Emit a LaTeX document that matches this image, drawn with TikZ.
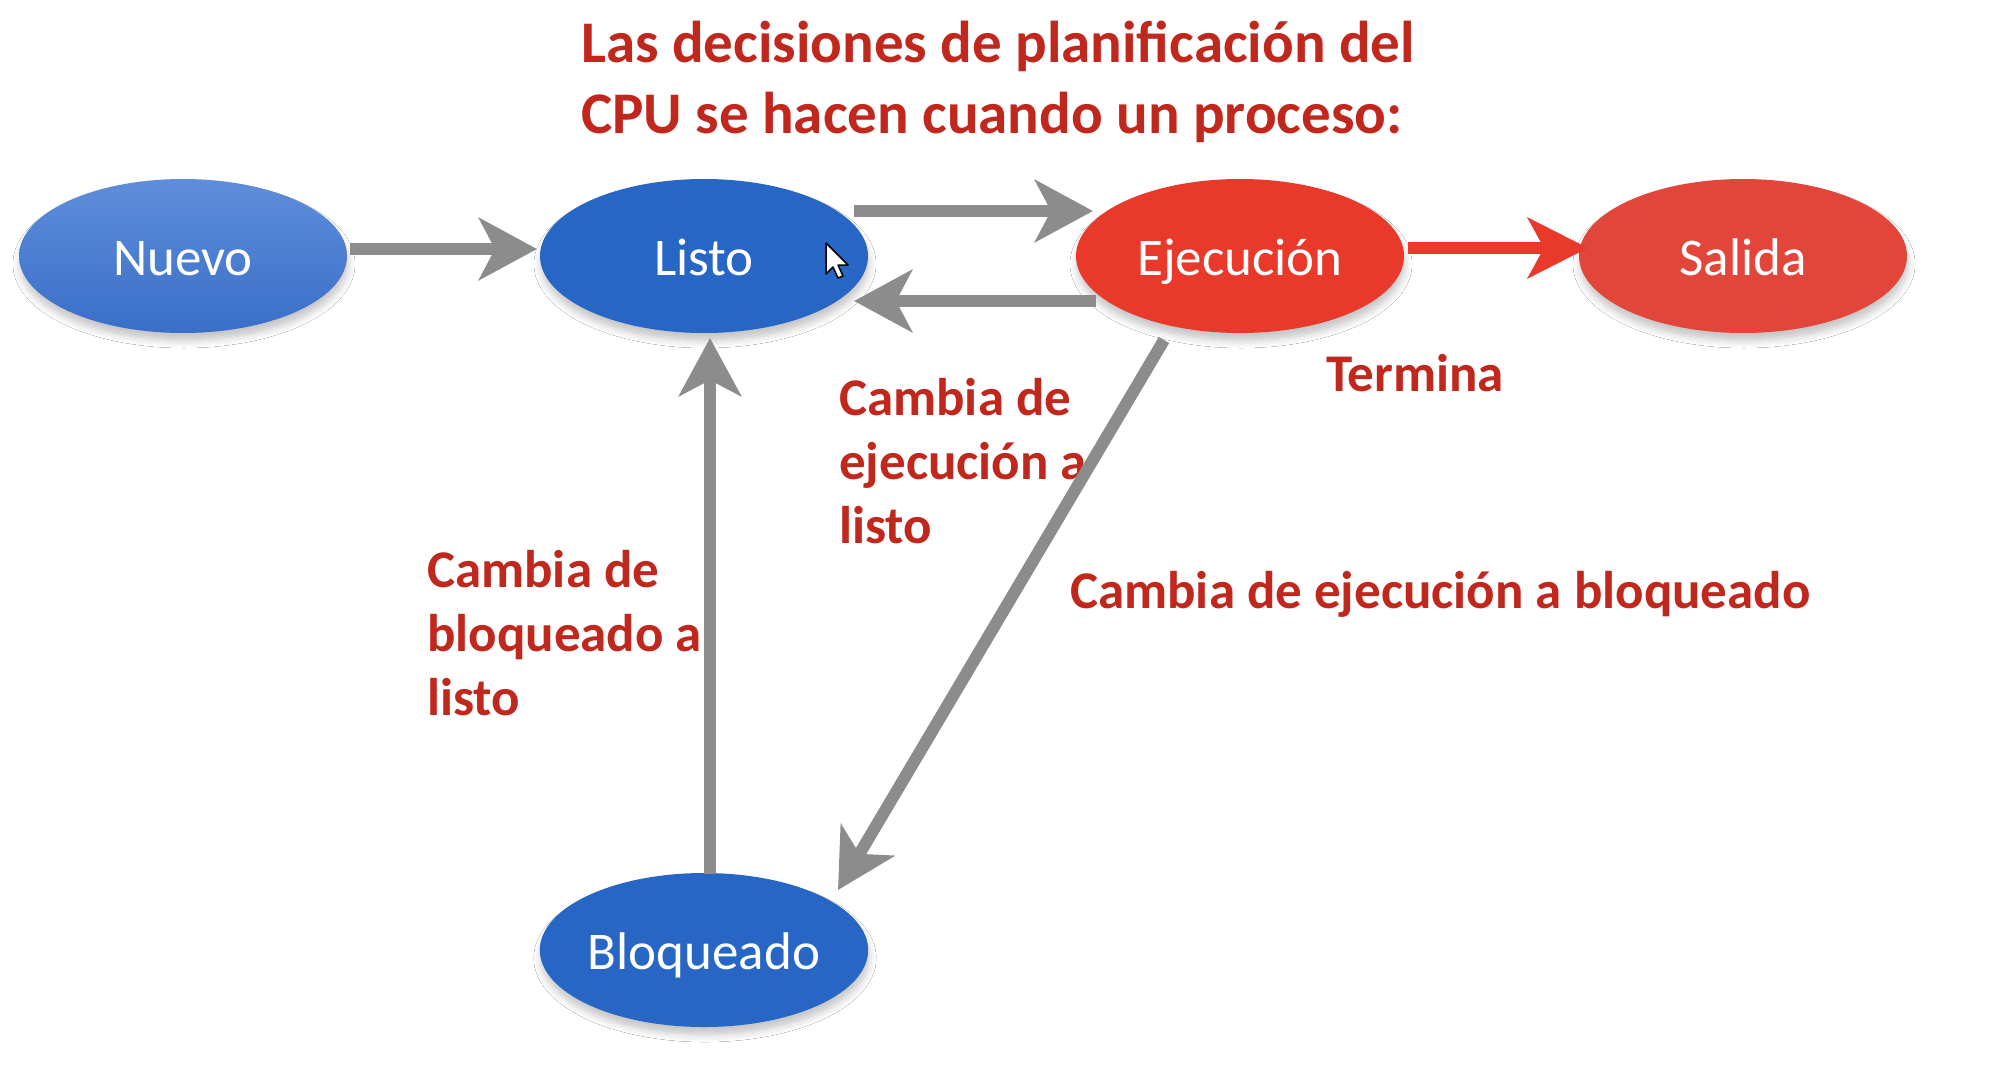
\documentclass[tikz,border=0pt]{standalone}
\usepackage{fontspec}
\setmainfont{Carlito}
\usetikzlibrary{arrows.meta,calc,shapes.geometric,shadows.blur}
\definecolor{lblred}{HTML}{C0281E}
\definecolor{nblue}{HTML}{2766C5}
\definecolor{nbluetop}{HTML}{5E8DDA}
\definecolor{nbluebot}{HTML}{3A6FC8}
\definecolor{nred}{HTML}{E8392A}
\definecolor{nredb}{HTML}{E24539}
\definecolor{agray}{HTML}{8C8C8C}
\begin{document}
\begin{tikzpicture}[x=1pt,y=-1pt,
  state/.style={ellipse, minimum width=328pt, minimum height=154pt, inner sep=0pt,
    text=white, font=\fontsize{53}{64}\selectfont, text height=39pt, text depth=0pt,
    blur shadow={shadow xshift=1pt, shadow yshift=-8pt, shadow blur radius=7pt, shadow opacity=22}},
  lbl/.style={text=lblred, font=\bfseries\fontsize{53}{64}\selectfont, align=left, inner sep=0pt},
  ttl/.style={text=lblred, font=\bfseries\fontsize{59}{71}\selectfont, align=left, inner sep=0pt},
  garrow/.style={draw=agray, line width=12pt, -{Stealth[length=58pt,width=62pt,inset=16pt]}},
  rarrow/.style={draw=nred, line width=12pt, -{Stealth[length=60pt,width=60pt,inset=16pt]}},
  cursorshape/.style={fill=white, draw=black, line width=1.5pt, line join=round}
]
\fill[white] (0,0) rectangle (2012,1066);
\useasboundingbox (0,0) rectangle (2012,1066);

% states
\node[state, top color=nbluetop, bottom color=nbluebot] (nu) at (183,256) {Nuevo};
\node[state, fill=nblue] (li) at (704,256) {Listo};
\node[state, fill=nred] (ej) at (1240,256) {Ejecución};
\node[state, fill=nredb] (sa) at (1743,256) {Salida};
\node[state, fill=nblue] (bl) at (704,950) {Bloqueado};

% title and labels (anchored at the baseline of the last line)
\node[ttl, anchor=base west] (title) at (581,133) {Las decisiones de planificación del\\CPU se hacen cuando un proceso:};
\node[lbl, anchor=base west] (term) at (1326,391) {Termina};
\node[lbl, anchor=base west] (ejli) at (839,543) {Cambia de\\ejecución a\\listo};
\node[lbl, anchor=base west] (ejbl) at (1070,608) {Cambia de ejecución a bloqueado};
\node[lbl, anchor=base west] (blli) at (427,715) {Cambia de\\bloqueado a\\listo};

% connectors
\draw[garrow] ($(nu)+(167,-7)$) -- ($(li)+(-167,-7)$);
\draw[garrow] ($(li)+(150,-45)$) -- ($(ej)+(-147,-45)$);
\draw[garrow] ($(ej)+(-144,45)$) -- ($(li)+(150,45)$);
\draw[rarrow] ($(ej)+(168,-8)$) -- ($(sa)+(-155,-8)$);
\draw[garrow] ($(ej)+(-76,84)$) -- ($(bl)+(134,-60)$);
\draw[garrow] ($(bl)+(6,-76)$) -- ($(li)+(6,82)$);

% mouse pointer
\draw[cursorshape] ($(li)+(122,-13)$) coordinate (cur) -- ++(0,31) -- ++(7,-7) -- ++(5,11) -- ++(5,-2) -- ++(-5,-11) -- ++(10,0) -- cycle;
\end{tikzpicture}
\end{document}
